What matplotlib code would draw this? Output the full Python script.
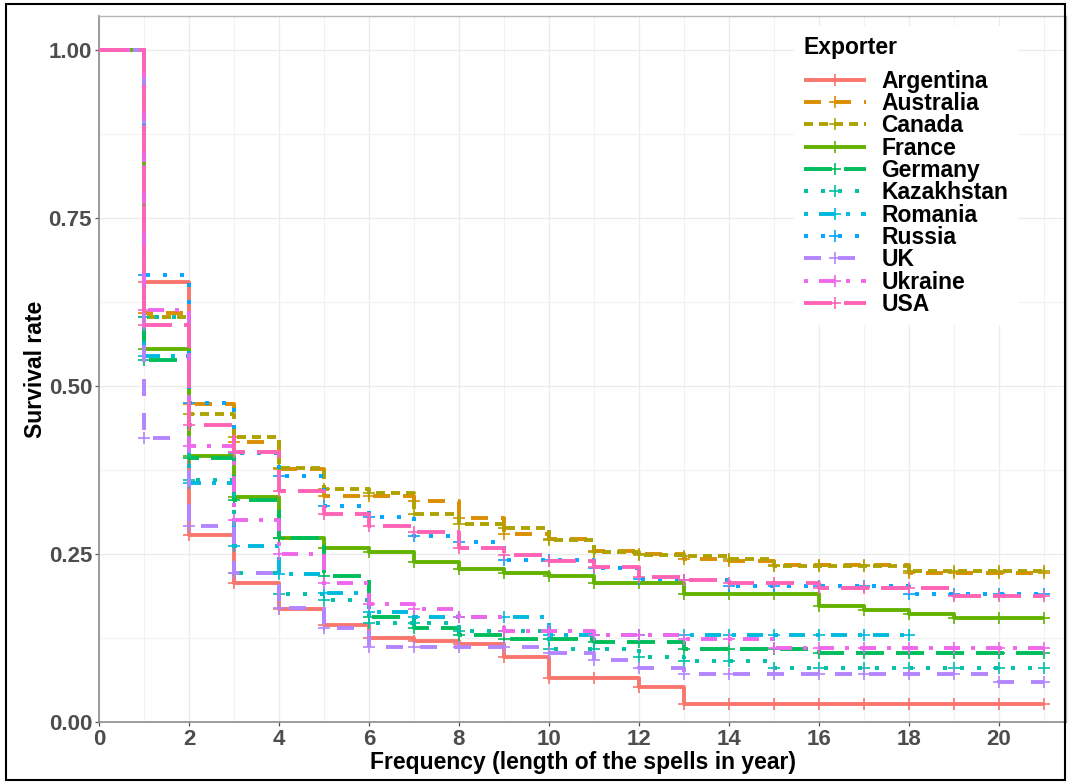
import numpy as np
import matplotlib
matplotlib.use("Agg")
import matplotlib.pyplot as plt
from matplotlib.lines import Line2D
from matplotlib.patches import Rectangle

plt.rcParams['font.family'] = ['Liberation Sans', 'DejaVu Sans']
plt.rcParams['lines.scale_dashes'] = False

exporters = ["Argentina", "Australia", "Canada", "France", "Germany", "Kazakhstan",
             "Romania", "Russia", "UK", "Ukraine", "USA"]

# survival value on [t, t+1) for t = 0, 1, 2, ... (last value = value at end time)
argentina = [1, .655, .278, .207, .168, .144, .125, .120, .116, .097, .066, .066, .052,
             .027, .027, .027, .027, .027, .027, .027, .027, .027]
australia = [1, .609, .473, .417, .376, .336, .336, .329, .304, .279, .272, .255, .250,
             .243, .240, .234, .234, .234, .222, .222, .222, .222]
canada = [1, .602, .458, .424, .378, .347, .340, .310, .294, .288, .270, .253, .248,
          .247, .243, .232, .232, .232, .225, .225, .225, .225]
france = [1, .555, .396, .335, .274, .259, .253, .238, .227, .222, .217, .206, .206,
          .190, .190, .190, .173, .167, .160, .155, .155, .155]
germany = [1, .539, .393, .330, .274, .217, .156, .140, .129, .124, .124, .119, .119,
           .109, .109, .109, .103, .103, .103, .103, .103, .103]
kazakhstan = [1, .603, .360, .222, .190, .181, .147, .147, .135, .135, .108, .108, .097,
              .090, .090, .080, .080, .080, .080, .080, .080, .080]
romania = [1, .545, .355, .262, .220, .192, .164, .156, .156, .156, .130, .130, .130,
           .130, .130, .130, .130, .130, .130]
russia = [1, .665, .475, .400, .366, .321, .305, .277, .267, .241, .241, .229, .213,
          .211, .202, .202, .202, .202, .190, .190, .190, .190]
uk = [1, .423, .292, .222, .170, .140, .112, .112, .112, .112, .102, .092, .081,
      .071, .071, .071, .071, .071, .071, .071, .060, .060]
ukraine = [1, .613, .410, .300, .250, .206, .176, .168, .156, .135, .135, .129, .129,
           .124, .124, .110, .110, .110, .110, .110, .110, .110]
usa = [1, .590, .442, .402, .344, .310, .292, .283, .259, .248, .240, .231, .215,
       .211, .207, .207, .199, .199, .199, .188, .188, .188]

series = [argentina, australia, canada, france, germany, kazakhstan,
          romania, russia, uk, ukraine, usa]

x_ticks = [0, 2, 4, 6, 8, 10, 12, 14, 16, 18, 20]
y_ticks = [0.00, 0.25, 0.50, 0.75, 1.00]
y_ticklabels = ["0.00", "0.25", "0.50", "0.75", "1.00"]

colors = ["#F8766D", "#DB8E00", "#AEA200", "#64B200", "#00BD5C", "#00C1A7",
          "#00BADE", "#00A6FF", "#B385FF", "#EF67EB", "#FF63B6"]

px = 0.72  # points per pixel at dpi 100
styles = [
    "-",
    (0, (17 * px, 13 * px)),
    (0, (9 * px, 6 * px)),
    "-",
    (0, (28 * px, 12 * px)),
    (0, (4 * px, 13 * px)),
    (0, (4 * px, 11 * px, 16 * px, 11 * px)),
    (0, (4 * px, 13 * px)),
    (0, (17 * px, 17 * px)),
    (0, (4 * px, 11 * px, 16 * px, 11 * px)),
    (0, (28 * px, 12 * px)),
]

W, H = 1068, 782
fig = plt.figure(figsize=(W / 100, H / 100), dpi=100)
left, right, top, bottom = 99, 1066, 16, 722
ax = fig.add_axes([left / W, (H - bottom) / H, (right - left) / W, (bottom - top) / H])

lw = 2.8
for name, vals, c, ls in zip(exporters, series, colors, styles):
    t = np.arange(len(vals))
    ax.step(t, vals, where="post", color=c, lw=lw, linestyle=ls,
            dash_capstyle="butt", solid_capstyle="butt", zorder=3)
    ax.plot(t[1:], vals[1:], linestyle="none", marker="+", ms=8, mew=1.2,
            color=c, zorder=3)

ax.set_xlim(0, 21.5)
ax.set_ylim(0, 1.05)
ax.set_xticks(x_ticks)
ax.set_xticks(np.arange(1, 22, 2), minor=True)
ax.set_yticks(y_ticks)
ax.set_yticklabels(y_ticklabels)
ax.set_yticks([0.125, 0.375, 0.625, 0.875], minor=True)
ax.grid(True, which="major", color="#EBEBEB", lw=0.9, zorder=0)
ax.grid(True, which="minor", color="#F2F2F2", lw=0.8, zorder=0)
ax.set_axisbelow(True)
ax.tick_params(which="major", length=3, width=0.9, color="#555555",
               labelsize=16, labelcolor="#4D4D4D", pad=2)
ax.tick_params(which="minor", length=0)
for lab in ax.get_xticklabels() + ax.get_yticklabels():
    lab.set_fontweight("bold")
for side in ["left", "bottom"]:
    ax.spines[side].set_color("#8C8C8C")
    ax.spines[side].set_linewidth(1.2)
for side in ["top", "right"]:
    ax.spines[side].set_color("#B5B5B5")
    ax.spines[side].set_linewidth(1.0)

ax.set_xlabel("Frequency (length of the spells in year)", fontsize=16.5,
              fontweight="bold", color="black", labelpad=1)
ax.set_ylabel("Survival rate", fontsize=16.5, fontweight="bold", color="black",
              labelpad=1)

handles = [Line2D([], [], color=c, lw=lw, linestyle=ls, marker="+", ms=8, mew=1.2,
                  dash_capstyle="butt", solid_capstyle="butt")
           for c, ls in zip(colors, styles)]
leg = ax.legend(handles, exporters, title="Exporter", loc="upper left",
                bbox_to_anchor=((783 - left) / (right - left), 1 - (15 - top) / (bottom - top)),
                prop={"weight": "bold", "size": 16.5},
                title_fontproperties={"weight": "bold", "size": 16.5},
                frameon=True, fancybox=False, edgecolor="none", facecolor="white",
                framealpha=1.0, handlelength=2.7, handletextpad=0.7,
                labelspacing=-0.03, numpoints=1, alignment="left",
                borderpad=0.4)
leg._legend_box.sep = 8
leg.set_zorder(5)

fig.patches.append(Rectangle((6 / W, 2 / H), (1065 - 6) / W, (778 - 2) / H,
                             transform=fig.transFigure, fill=False,
                             edgecolor="black", lw=1.5, zorder=10))

fig.savefig("out.png", dpi=100)
